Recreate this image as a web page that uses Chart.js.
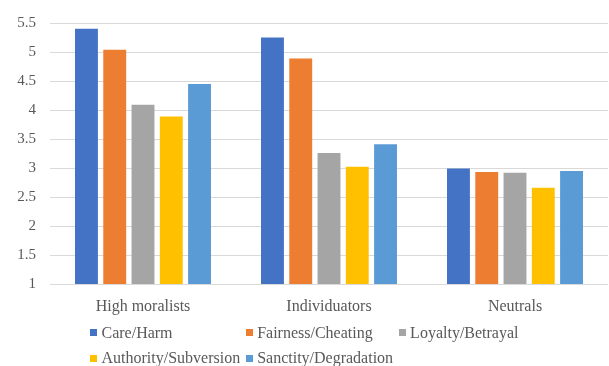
<!DOCTYPE html>
<html>
<head>
<meta charset="utf-8">
<script src="https://cdn.jsdelivr.net/npm/chart.js@4"></script>
<style>
   html, body { margin: 0; padding: 0; background: #ffffff; }
   #chart { display: block; }
</style>
</head>
<body>
<canvas id="chart" width="609" height="366"></canvas>
<script>
'use strict';

/***** DATA *****/
var groups = ['High moralists', 'Individuators', 'Neutrals'];
var foundations = ['Care/Harm', 'Fairness/Cheating', 'Loyalty/Betrayal', 'Authority/Subversion', 'Sanctity/Degradation'];
var careHarm = [5.40, 5.25, 2.99];
var fairnessCheating = [5.04, 4.89, 2.93];
var loyaltyBetrayal = [4.09, 3.26, 2.92];
var authoritySubversion = [3.89, 3.02, 2.66];
var sanctityDegradation = [4.45, 3.41, 2.95];
var yTicks = [1, 1.5, 2, 2.5, 3, 3.5, 4, 4.5, 5, 5.5];

var colors = ['#4472C4', '#ED7D31', '#A5A5A5', '#FFC000', '#5B9BD5'];
var seriesValues = [careHarm, fairnessCheating, loyaltyBetrayal, authoritySubversion, sanctityDegradation];
var textColor = '#595959';
var fontFamily = "'Liberation Serif', 'DejaVu Serif', 'Times New Roman', serif";

// Excel style legend: rows of three, columns lined up, block centered
var gridLegend = {
   id: 'gridLegend',
   afterDraw: function (chart) {
      var ctx = chart.ctx;
      var sets = chart.data.datasets;
      var perRow = 3, box = 7, boxGap = 4, colGap = 6;
      ctx.save();
      ctx.font = '16px ' + fontFamily;
      ctx.textBaseline = 'middle';
      ctx.textAlign = 'left';

      // width of every column = its widest item
      var colWidths = [];
      for (var i = 0; i < sets.length; i++) {
         var c = i % perRow;
         var w = box + boxGap + ctx.measureText(sets[i].label).width;
         colWidths[c] = Math.max(colWidths[c] || 0, w);
      }
      var total = 0;
      for (var k = 0; k < colWidths.length; k++) total += colWidths[k];
      total += colGap * (colWidths.length - 1);
      var startX = (chart.width - total) / 2;

      for (var j = 0; j < sets.length; j++) {
         var col = j % perRow, row = Math.floor(j / perRow);
         var x = startX;
         for (var m = 0; m < col; m++) x += colWidths[m] + colGap;
         var y = chart.chartArea.bottom + 48.6 + row * 25.4;
         ctx.fillStyle = sets[j].backgroundColor;
         ctx.fillRect(Math.round(x), Math.round(y - box / 2), box, box);
         ctx.fillStyle = textColor;
         ctx.fillText(sets[j].label, x + box + boxGap, y + 1);
      }
      ctx.restore();
   }
};

var datasets = [];
for (var i = 0; i < foundations.length; i++) {
   datasets.push({
      label: foundations[i],
      data: seriesValues[i],
      backgroundColor: colors[i],
      borderWidth: 0,
      categoryPercentage: 0.76,
      barPercentage: 0.81
   });
}

var myBarChart = new Chart(document.getElementById('chart'), {
   type: 'bar',
   data: { labels: groups, datasets: datasets },
   plugins: [gridLegend],
   options: {
      responsive: false,
      animation: false,
      layout: { padding: { top: 17, right: 1, bottom: 44, left: 0 } },
      plugins: {
         legend: { display: false },
         tooltip: { enabled: false }
      },
      scales: {
         x: {
            grid: { display: false },
            border: { display: false },
            ticks: {
               color: textColor,
               padding: 5,
               font: { family: fontFamily, size: 16 }
            },
            afterFit: function (scale) { scale.height = 38; }
         },
         y: {
            min: yTicks[0],
            max: yTicks[yTicks.length - 1],
            grid: { color: '#D9D9D9', lineWidth: 1, drawTicks: false },
            border: { display: false },
            afterBuildTicks: function (scale) {
               scale.ticks = yTicks.map(function (v) { return { value: v }; });
            },
            ticks: {
               color: textColor,
               padding: 14,
               font: { family: fontFamily, size: 15 },
               callback: function (v) { return String(v); }
            },
            afterFit: function (scale) { scale.width = 50; }
         }
      }
   }
});
</script>
</body>
</html>
